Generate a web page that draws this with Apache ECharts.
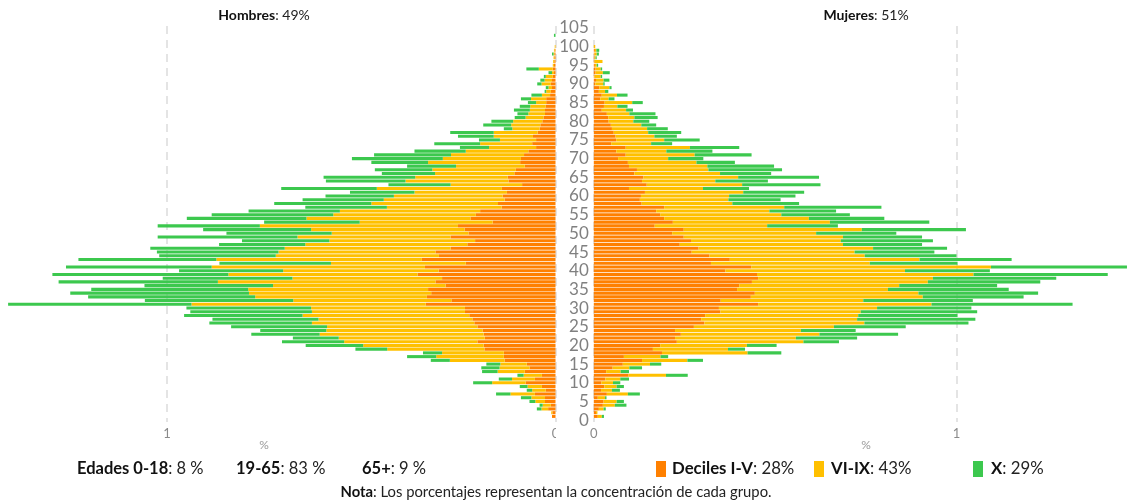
<!DOCTYPE html>
<html><head><meta charset="utf-8">
<script src="https://cdn.jsdelivr.net/npm/echarts/dist/echarts.min.js"></script>
<style>html,body{margin:0;padding:0;background:#fff}#c{width:1129px;height:503px}</style>
</head><body><div id="c"></div>
<script>
// Ages 0..105 (category axis)
const ages = [];
for (let a = 0; a <= 105; a++) ages.push(String(a));

// Hombres (left) — % per age, by income group
const menLow = [0,.009,.008,.019,.012,.027,.027,.053,.025,.035,
 .077,.053,.035,.079,.067,.074,.131,.133,.133,.183,
 .185,.201,.182,.185,.188,.201,.209,.214,.222,.233,
 .233,.334,.268,.331,.320,.328,.283,.309,.292,.355,
 .301,.336,.231,.344,.300,.309,.270,.227,.207,.270,
 .224,.234,.251,.162,.219,.205,.194,.139,.148,.131,
 .136,.125,.138,.086,.121,.123,.106,.102,.079,.091,
 .089,.081,.070,.050,.060,.050,.058,.046,.041,.039,
 .034,.031,.027,.027,.025,.024,.024,.014,.012,.009,
 .012,.009,.007,.004,.007,.004,.003,.003,.003,.002,
 0,0,0,0,0,0];
const menMid = [0,0,.003,.017,.021,.025,.035,.063,.035,.037,
 .086,.059,.047,.070,.077,.068,.141,.174,.159,.250,
 .310,.343,.376,.422,.402,.387,.418,.396,.429,.394,
 .396,.603,.407,.442,.469,.463,.444,.560,.385,.487,
 .400,.549,.347,.529,.420,.404,.427,.417,.375,.394,
 .352,.395,.510,.342,.422,.367,.361,.295,.326,.311,
 .280,.238,.322,.184,.265,.238,.204,.215,.177,.237,
 .201,.188,.161,.121,.134,.093,.101,.113,.070,.075,
 .075,.046,.043,.039,.040,.026,.039,.021,.012,.009,
 .024,.019,.018,.005,.036,.003,.003,.002,.002,.002,
 .002,0,0,0,0,0];
const menTop = [0,0,0,.012,.008,.015,.027,.037,.014,.020,
 .049,.034,.016,.040,.047,.036,.049,.075,.049,.082,
 .148,.160,.118,.176,.170,.247,.264,.273,.305,.313,
 .321,.472,.382,.430,.460,.404,.331,.410,.334,.453,
 .268,.375,.287,.355,.300,.313,.346,.222,.225,.360,
 .271,.278,.263,.246,.308,.313,.235,.210,.250,.209,
 .176,.166,.246,.160,.205,.236,.137,.148,.126,.146,
 .234,.198,.132,.075,.118,.054,.092,.112,.022,.072,
 .056,.028,.028,.041,.027,.021,.026,.027,.004,.007,
 .011,.011,.005,.009,.032,0,0,0,.004,0,
 0,0,0,.004,0,0];

// Mujeres (right)
const womenLow = [0,.011,.006,.014,.025,.027,.011,.036,.020,.029,
 .021,.032,.096,.034,.052,.080,.133,.083,.188,.163,
 .183,.229,.224,.240,.224,.276,.305,.296,.307,.349,
 .345,.453,.350,.433,.444,.395,.401,.436,.453,.450,
 .363,.434,.323,.375,.319,.270,.289,.237,.268,.248,
 .216,.248,.168,.218,.194,.183,.172,.194,.132,.127,
 .130,.141,.097,.146,.133,.137,.112,.119,.097,.094,
 .067,.088,.062,.088,.048,.062,.060,.055,.050,.047,
 .041,.040,.036,.022,.028,.030,.018,.022,.014,.015,
 .004,.006,.002,.005,.005,.003,.002,.002,.002,.003,
 0,0,0,0,0,0];
const womenMid = [0,.011,.004,.013,.033,.036,.020,.058,.030,.034,
 .032,.041,.103,.040,.046,.075,.125,.101,.236,.207,
 .239,.349,.333,.382,.347,.386,.441,.430,.422,.387,
 .436,.478,.393,.474,.451,.416,.441,.485,.482,.597,
 .495,.661,.438,.523,.428,.449,.481,.450,.413,.439,
 .397,.491,.310,.433,.399,.334,.312,.331,.250,.244,
 .243,.271,.204,.263,.202,.261,.236,.197,.216,.189,
 .138,.190,.138,.177,.110,.132,.107,.095,.097,.084,
 .068,.072,.062,.067,.037,.076,.023,.042,.017,.028,
 .022,.021,.017,.020,.014,.005,.022,.003,.006,.004,
 .004,0,0,0,0,0];
const womenTop = [0,.006,0,.006,.032,.020,.004,.033,.022,.020,
 .020,.024,.060,.023,.035,.031,.043,.021,.093,.047,
 .082,.098,.169,.217,.151,.198,.287,.326,.274,.321,
 .260,.389,.302,.278,.330,.333,.270,.310,.340,.370,
 .234,.375,.242,.254,.253,.220,.204,.218,.254,.218,
 .221,.287,.195,.274,.208,.189,.184,.268,.184,.144,
 .183,.168,.127,.216,.145,.223,.141,.203,.184,.106,
 .097,.157,.127,.136,.058,.098,.062,.091,.057,.041,
 .044,.064,.072,.019,.028,.029,.016,.029,.009,.006,
 .004,.016,.004,.019,.004,.004,0,.003,.006,.008,
 0,0,0,0,0,0];

const xTickLabels = ['0', '1'];
const axisUnit = '%';
const groupNames = ['Deciles I-V', 'VI-IX', 'X'];
const groupShares = ['28%', '43%', '29%'];
const ageGroups = [['Edades 0-18', '8 %'], ['19-65', '83 %'], ['65+', '9 %']];
const sexShares = [['Hombres', '49%'], ['Mujeres', '51%']];
const note = ['Nota', 'Los porcentajes representan la concentración de cada grupo.'];

const FONT = 'Lato, "Noto Sans", sans-serif';
const COLORS = ['#ff8000', '#ffc000', '#3cc84e'];

const chart = echarts.init(document.getElementById('c'), null, {renderer: 'canvas'});

function xAxisDef(idx, inverse, max) {
  return {
    gridIndex: idx, type: 'value', min: 0, max: max, interval: 1, inverse: inverse,
    axisLine: {show: false}, axisTick: {show: false},
    axisLabel: {color: '#8a8a8a', fontSize: 13, margin: 5, fontFamily: FONT,
      showMaxLabel: false,
      formatter: v => (v === 0 ? xTickLabels[0] : v === 1 ? xTickLabels[1] : '')},
    splitLine: {show: true, showMaxLine: false,
      lineStyle: {color: '#dcdcdc', type: [8, 6], width: 1.5}}
  };
}
function yAxisDef(idx, showLabels) {
  return {
    gridIndex: idx, type: 'category', data: ages,
    position: idx === 0 ? 'right' : 'left',
    axisLine: {show: false}, axisTick: {show: false}, splitLine: {show: false},
    axisLabel: {show: showLabels, interval: 4, color: '#808080', fontSize: 17,
      margin: 5, fontFamily: FONT}
  };
}
function barSeries(name, data, idx, color, stack) {
  return {
    name: name, type: 'bar', data: data, xAxisIndex: idx, yAxisIndex: idx,
    stack: stack, barCategoryGap: '18%', itemStyle: {color: color},
    emphasis: {disabled: true}, silent: true
  };
}

function rich(size) {
  return {
    b: {fontWeight: 'bold', fontSize: size, fontFamily: FONT, fill: '#111'},
    n: {fontSize: size, fontFamily: FONT, fill: '#222'}
  };
}
function label(x, y, bold, rest, size, align) {
  return {type: 'text', x: x, y: y, z: 50,
    style: {text: '{b|' + bold + '}{n|: ' + rest + '}', rich: rich(size),
      align: align, verticalAlign: 'middle'}};
}
function plain(x, y, txt, size, color) {
  return {type: 'text', x: x, y: y, z: 50,
    style: {text: txt, fontSize: size, fontFamily: FONT, fill: color,
      align: 'center', verticalAlign: 'middle'}};
}

const graphics = [
  label(264, 15, sexShares[0][0], sexShares[0][1], 14, 'center'),
  label(866, 15, sexShares[1][0], sexShares[1][1], 14, 'center'),
  plain(264, 445, axisUnit, 12, '#9a9a9a'),
  plain(866, 445, axisUnit, 12, '#9a9a9a'),
  label(77, 469, ageGroups[0][0], ageGroups[0][1], 16.5, 'left'),
  label(236, 469, ageGroups[1][0], ageGroups[1][1], 16.5, 'left'),
  label(362, 469, ageGroups[2][0], ageGroups[2][1], 16.5, 'left'),
  {type: 'rect', shape: {x: 656, y: 461, width: 10, height: 16}, style: {fill: COLORS[0]}},
  label(672, 469, groupNames[0], groupShares[0], 16.8, 'left'),
  {type: 'rect', shape: {x: 814, y: 461, width: 10, height: 16}, style: {fill: COLORS[1]}},
  label(831, 469, groupNames[1], groupShares[1], 16.8, 'left'),
  {type: 'rect', shape: {x: 973, y: 461, width: 10, height: 16}, style: {fill: COLORS[2]}},
  label(991, 469, groupNames[2], groupShares[2], 16.8, 'left'),
  label(556, 492, note[0], note[1], 14.8, 'center'),
  {type: 'rect', z: 100, shape: {x: 556, y: 424, width: 18, height: 16}, style: {fill: '#fff'}}
];

const LEFT_ZERO = 555.5, LEFT_UNIT = 388.5;
const RIGHT_ZERO = 593.8, RIGHT_UNIT = 362.7;
const W = 1129;

chart.setOption({
  animation: false,
  textStyle: {fontFamily: FONT},
  grid: [
    {left: 0, width: LEFT_ZERO, top: 26, height: 396},
    {left: RIGHT_ZERO, width: W - RIGHT_ZERO, top: 26, height: 396}
  ],
  xAxis: [
    xAxisDef(0, true, LEFT_ZERO / LEFT_UNIT),
    xAxisDef(1, false, (W - RIGHT_ZERO) / RIGHT_UNIT)
  ],
  yAxis: [yAxisDef(0, false), yAxisDef(1, true)],
  series: [
    barSeries(groupNames[0], menLow, 0, COLORS[0], 'men'),
    barSeries(groupNames[1], menMid, 0, COLORS[1], 'men'),
    barSeries(groupNames[2], menTop, 0, COLORS[2], 'men'),
    barSeries(groupNames[0], womenLow, 1, COLORS[0], 'women'),
    barSeries(groupNames[1], womenMid, 1, COLORS[1], 'women'),
    barSeries(groupNames[2], womenTop, 1, COLORS[2], 'women')
  ],
  graphic: graphics
});
</script></body></html>
